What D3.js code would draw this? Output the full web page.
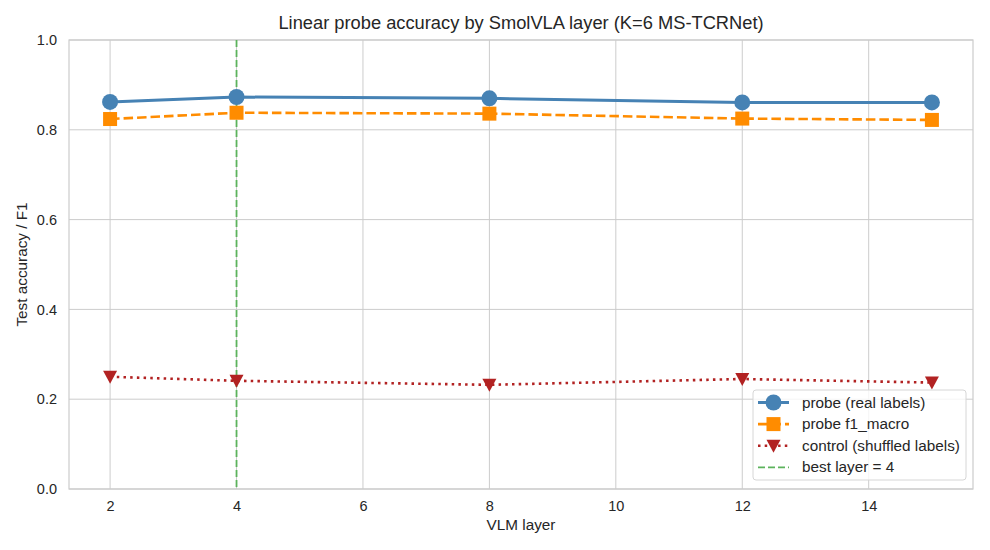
<!DOCTYPE html>
<html>
<head>
<meta charset="utf-8">
<script src="https://cdn.jsdelivr.net/npm/d3@7"></script>
<style>
  body { margin: 0; background: #fff; }
  text { font-family: "Liberation Sans", Arial, sans-serif; fill: #262626; }
</style>
</head>
<body>
<div id="chart"></div>
<script>
// data
const layers = [2, 4, 8, 12, 15];
const probeAcc = [0.862, 0.873, 0.870, 0.861, 0.861];
const probeF1 = [0.824, 0.838, 0.836, 0.825, 0.822];
const controlAcc = [0.250, 0.241, 0.232, 0.245, 0.237];
const bestLayer = 4;
const xTicks = [2, 4, 6, 8, 10, 12, 14];
const yTicks = [0, 0.2, 0.4, 0.6, 0.8, 1.0];

const W = 990, H = 550;
const margin = {top: 40, right: 17, bottom: 61, left: 69};
const width = W - margin.left - margin.right;
const height = H - margin.top - margin.bottom;

const svg = d3.select("#chart").append("svg")
    .attr("width", W)
    .attr("height", H);

const g = svg.append("g")
    .attr("transform", `translate(${margin.left},${margin.top})`);

const x = d3.scaleLinear().domain([1.35, 15.65]).range([0, width]);
const y = d3.scaleLinear().domain([0, 1]).range([height, 0]);

// grid
g.append("g").selectAll("line").data(xTicks).join("line")
    .attr("x1", d => x(d)).attr("x2", d => x(d))
    .attr("y1", 0).attr("y2", height)
    .attr("stroke", "#cccccc").attr("stroke-width", 1);
g.append("g").selectAll("line").data(yTicks).join("line")
    .attr("x1", 0).attr("x2", width)
    .attr("y1", d => y(d)).attr("y2", d => y(d))
    .attr("stroke", "#cccccc").attr("stroke-width", 1);

// axes
const xAxis = d3.axisBottom(x).tickValues(xTicks).tickSize(0).tickPadding(12).tickFormat(d3.format("d"));
const yAxis = d3.axisLeft(y).tickValues(yTicks).tickSize(0).tickPadding(12).tickFormat(d3.format(".1f"));

g.append("g").attr("transform", `translate(0,${height})`).call(xAxis)
    .call(a => a.select(".domain").remove())
    .selectAll("text").style("font-size", "14.5px").attr("fill", "#262626");
g.append("g").call(yAxis)
    .call(a => a.select(".domain").remove())
    .selectAll("text").style("font-size", "14.5px").attr("fill", "#262626");

// frame
g.append("rect")
    .attr("width", width).attr("height", height)
    .attr("fill", "none").attr("stroke", "#cccccc").attr("stroke-width", 1.2);

// best layer line
g.append("line")
    .attr("x1", x(bestLayer)).attr("x2", x(bestLayer))
    .attr("y1", 0).attr("y2", height)
    .attr("stroke", "#5cb35c").attr("stroke-width", 1.8)
    .attr("stroke-dasharray", "7,3");

const series = [
    {name: "probe (real labels)", vals: probeAcc, color: "#4682b4", width: 3, dash: null, marker: "circle"},
    {name: "probe f1_macro", vals: probeF1, color: "#ff8c00", width: 2.6, dash: "9.5,4", marker: "square"},
    {name: "control (shuffled labels)", vals: controlAcc, color: "#b22222", width: 2.6, dash: "2.5,4.2", marker: "triangle"}
];

const line = d3.line().x(d => x(d[0])).y(d => y(d[1]));

function drawMarker(sel, type, color) {
    if (type === "circle") {
        sel.append("circle").attr("r", 8).attr("fill", color);
    } else if (type === "square") {
        sel.append("rect").attr("x", -7).attr("y", -7).attr("width", 14).attr("height", 14).attr("fill", color);
    } else {
        sel.append("path").attr("d", "M-7,-6L7,-6L0,7Z").attr("fill", color);
    }
}

series.forEach(s => {
    const pts = layers.map((l, i) => [l, s.vals[i]]);
    g.append("path").datum(pts)
        .attr("d", line)
        .attr("fill", "none")
        .attr("stroke", s.color)
        .attr("stroke-width", s.width)
        .attr("stroke-dasharray", s.dash);
    pts.forEach(p => {
        const m = g.append("g").attr("transform", `translate(${x(p[0])},${y(p[1])})`);
        drawMarker(m, s.marker, s.color);
    });
});

// title and labels
svg.append("text")
    .attr("x", margin.left + width / 2).attr("y", 29)
    .attr("text-anchor", "middle")
    .style("font-size", "18.3px")
    .text("Linear probe accuracy by SmolVLA layer (K=6 MS-TCRNet)");

svg.append("text")
    .attr("x", margin.left + width / 2).attr("y", 530)
    .attr("text-anchor", "middle")
    .style("font-size", "15.3px")
    .text("VLM layer");

svg.append("text")
    .attr("transform", `translate(27,${margin.top + height / 2}) rotate(-90)`)
    .attr("text-anchor", "middle")
    .style("font-size", "15.3px")
    .text("Test accuracy / F1");

// legend
const leg = svg.append("g").attr("transform", "translate(753,390)");
leg.append("rect")
    .attr("width", 213).attr("height", 90).attr("rx", 3)
    .attr("fill", "rgba(255,255,255,0.8)")
    .attr("stroke", "#d6d6d6");

const legItems = series.concat([{name: "best layer = " + bestLayer, color: "#5cb35c", width: 1.8, dash: "7,3", marker: null}]);
legItems.forEach((s, i) => {
    const row = leg.append("g").attr("transform", `translate(0,${12.5 + i * 21.6})`);
    row.append("line")
        .attr("x1", 5).attr("x2", 36)
        .attr("stroke", s.color).attr("stroke-width", s.width)
        .attr("stroke-dasharray", s.dash);
    if (s.marker) {
        const m = row.append("g").attr("transform", "translate(20.5,0)");
        drawMarker(m, s.marker, s.color);
    }
    row.append("text")
        .attr("x", 49).attr("y", 5)
        .style("font-size", "15.3px")
        .text(s.name);
});
</script>
</body>
</html>
